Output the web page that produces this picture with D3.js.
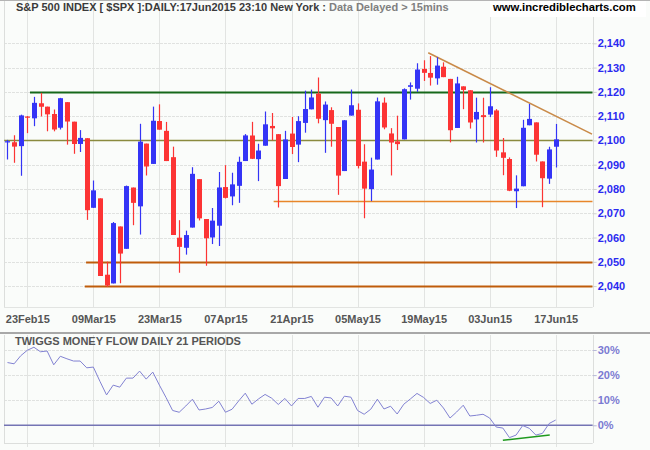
<!DOCTYPE html>
<html><head><meta charset="utf-8">
<script src="https://cdn.jsdelivr.net/npm/d3@7"></script>
<style>
html,body{margin:0;padding:0;background:#fafcfa;}
svg{display:block;font-family:"Liberation Sans",Arial,sans-serif;}
</style></head>
<body><svg id="c" width="650" height="450"></svg>
<script>
// ---- data ----
const dates = ["18Feb15","19Feb15","20Feb15","23Feb15","24Feb15","25Feb15","26Feb15","27Feb15","02Mar15","03Mar15","04Mar15","05Mar15","06Mar15","09Mar15","10Mar15","11Mar15","12Mar15","13Mar15","16Mar15","17Mar15","18Mar15","19Mar15","20Mar15","23Mar15","24Mar15","25Mar15","26Mar15","27Mar15","30Mar15","31Mar15","01Apr15","02Apr15","06Apr15","07Apr15","08Apr15","09Apr15","10Apr15","13Apr15","14Apr15","15Apr15","16Apr15","17Apr15","20Apr15","21Apr15","22Apr15","23Apr15","24Apr15","27Apr15","28Apr15","29Apr15","30Apr15","01May15","04May15","05May15","06May15","07May15","08May15","11May15","12May15","13May15","14May15","15May15","18May15","19May15","20May15","21May15","22May15","26May15","27May15","28May15","29May15","01Jun15","02Jun15","03Jun15","04Jun15","05Jun15","08Jun15","09Jun15","10Jun15","11Jun15","12Jun15","15Jun15","16Jun15","17Jun15"];
const open  = [2099.16,2099.25,2097.65,2109.83,2109.10,2115.30,2113.91,2110.88,2105.23,2115.76,2107.72,2098.54,2100.91,2072.25,2076.14,2044.69,2041.10,2064.56,2055.35,2080.59,2072.84,2098.69,2090.32,2107.99,2103.94,2093.10,2059.94,2055.78,2064.11,2084.05,2067.63,2060.03,2064.87,2080.79,2076.94,2081.29,2091.51,2102.03,2092.28,2097.82,2105.96,2102.58,2084.11,2102.82,2098.27,2107.21,2112.80,2119.29,2108.35,2112.49,2105.52,2087.38,2110.23,2112.63,2091.26,2079.96,2092.13,2115.56,2102.87,2099.62,2100.43,2122.07,2121.30,2129.45,2127.79,2125.55,2130.36,2125.34,2105.13,2122.27,2120.66,2108.64,2110.41,2110.64,2112.35,2095.09,2092.34,2079.07,2081.12,2106.24,2107.43,2091.34,2084.26,2097.40];
const high  = [2100.23,2102.13,2110.61,2110.05,2117.94,2119.59,2113.91,2112.74,2117.52,2115.76,2107.72,2104.25,2100.91,2083.49,2076.14,2050.08,2066.41,2064.56,2081.41,2080.59,2106.85,2098.69,2113.92,2114.86,2107.63,2097.43,2067.15,2062.83,2088.97,2084.05,2067.63,2072.17,2086.99,2089.81,2086.69,2093.31,2102.61,2107.65,2098.62,2111.91,2111.30,2102.58,2103.94,2109.64,2109.98,2120.49,2120.92,2125.92,2116.04,2113.65,2105.52,2108.41,2120.95,2115.24,2098.42,2092.90,2117.66,2117.69,2105.06,2110.19,2121.45,2123.89,2131.78,2133.02,2134.72,2134.28,2132.15,2125.34,2126.22,2122.27,2120.66,2117.61,2117.59,2121.92,2112.89,2100.99,2093.01,2085.62,2108.50,2115.02,2107.43,2091.34,2097.40,2106.79];
const low   = [2092.15,2090.79,2085.44,2103.00,2105.87,2109.89,2103.76,2103.75,2104.50,2098.26,2094.49,2095.22,2067.27,2072.21,2044.16,2039.69,2041.10,2041.17,2055.35,2065.08,2061.23,2085.56,2090.32,2104.42,2091.50,2061.05,2045.50,2052.96,2064.11,2067.04,2048.38,2057.32,2056.52,2076.10,2073.30,2074.29,2091.51,2092.33,2083.24,2097.82,2100.02,2072.37,2084.11,2094.38,2091.05,2103.19,2112.80,2107.04,2094.89,2097.41,2077.59,2087.38,2110.23,2088.46,2067.93,2074.99,2092.13,2104.58,2085.57,2096.04,2100.43,2116.81,2120.01,2124.50,2122.59,2122.95,2126.06,2099.18,2105.13,2112.86,2104.89,2099.14,2099.14,2109.61,2093.23,2085.67,2079.11,2072.14,2081.12,2106.24,2091.33,2072.49,2082.10,2088.86];
const close = [2099.68,2097.45,2110.30,2109.66,2115.48,2113.86,2110.74,2104.50,2117.39,2107.78,2098.53,2101.04,2071.26,2079.43,2044.16,2040.24,2065.95,2053.40,2081.19,2074.28,2099.50,2089.27,2108.10,2104.42,2091.50,2061.05,2056.15,2061.02,2086.24,2067.89,2059.69,2066.96,2080.62,2076.33,2081.90,2091.18,2102.06,2092.43,2095.84,2106.63,2104.99,2081.18,2100.40,2097.29,2107.96,2112.93,2117.69,2108.92,2114.76,2106.85,2085.51,2108.29,2114.49,2089.46,2080.15,2088.00,2116.10,2105.33,2099.12,2098.48,2121.10,2122.73,2129.20,2127.83,2125.85,2130.82,2126.06,2104.20,2123.48,2120.79,2107.39,2111.73,2109.60,2114.07,2095.84,2092.83,2079.28,2080.15,2105.20,2108.86,2094.11,2084.43,2096.29,2100.44];
const tmf = [25.0,24.5,27.7,29.9,31.1,29.3,29.6,24.1,27.5,26.5,25.6,25.6,22.9,23.2,17.5,12.1,16.0,15.2,18.8,18.8,21.6,18.4,21.2,16.0,11.1,5.9,5.2,7.7,10.4,6.1,6.5,7.1,9.6,5.2,6.4,9.7,12.8,8.4,10.5,12.3,10.8,8.3,10.7,7.7,10.7,10.7,11.5,7.2,11.2,10.9,7.7,11.6,11.2,5.9,4.4,6.4,10.4,6.5,7.6,4.5,8.4,10.5,12.7,11.1,8.7,10.0,6.9,2.9,5.3,8.0,3.7,4.0,4.4,2.9,-0.7,-1.1,-4.9,-3.9,-0.1,-1.2,-3.9,-3.2,0.7,2.1];
const xTickLabels = ["23Feb15","09Mar15","23Mar15","07Apr15","21Apr15","05May15","19May15","03Jun15","17Jun15"];
const priceTicks = [2040,2050,2060,2070,2080,2090,2100,2110,2120,2130,2140];
const tmfTicks = [0,10,20,30];
// horizontal support/resistance lines: [start index, value]
const levelStart = [3.4, -0.5, 40.3, 11.9, 11.7];
const levelValue = [2120, 2100, 2075, 2050, 2040];
const levelColor = ["#16681a","#8a8a3e","#e8862a","#bf5c0a","#bf5c0a"];
const levelWidth = [2, 1.6, 1.5, 2, 2];
// trend line: [index, value]
const trendIdx = [63.7, 88.5];
const trendVal = [2136.1, 2102.6];
// TMF divergence line
const divIdx = [75.0, 82.1];
const divVal = [-6.0, -3.9];

// ---- layout ----
const svg = d3.select("#c");
const L = 4, R = 592.7, mainBottom = 307, sepY = 333, lowTop = 335, lowBottom = 443;
const x = d3.scaleLinear().domain([3, 83]).range([27.3, 555.7]);
const y = d3.scaleLinear().domain([2040, 2140]).range([286.1, 43.3]);
const y2 = d3.scaleLinear().domain([0, 30]).range([425.3, 350]);
const tickIdx = xTickLabels.map(t => dates.indexOf(t));
const px = v => Math.round(v) + 0.5;

svg.append("rect").attr("width",650).attr("height",450).attr("fill","#fafcfa");

// vertical grid lines
const g = svg.append("g");
tickIdx.forEach(i => {
  g.append("line").attr("x1",px(x(i))).attr("x2",px(x(i))).attr("y1",0).attr("y2",mainBottom).attr("stroke","#e2e4e2");
  g.append("line").attr("x1",px(x(i))).attr("x2",px(x(i))).attr("y1",lowTop).attr("y2",447).attr("stroke","#e2e4e2");
});
// horizontal grid main
priceTicks.forEach(v => {
  g.append("line").attr("x1",L).attr("x2",R).attr("y1",px(y(v))).attr("y2",px(y(v))).attr("stroke","#e0e2e0").attr("stroke-dasharray","3,1");
});
// borders
g.append("line").attr("x1",px(L)).attr("x2",px(L)).attr("y1",0).attr("y2",mainBottom).attr("stroke","#dcdedc");
g.append("line").attr("x1",px(R)).attr("x2",px(R)).attr("y1",0).attr("y2",mainBottom).attr("stroke","#dcdedc");
g.append("line").attr("x1",L).attr("x2",R).attr("y1",mainBottom+0.5).attr("y2",mainBottom+0.5).attr("stroke","#e2e4e2");
g.append("line").attr("x1",0).attr("x2",650).attr("y1",0.5).attr("y2",0.5).attr("stroke","#b4b4b4");

// URL box
svg.append("rect").attr("x",490).attr("y",1).attr("width",156).attr("height",16).attr("fill","#ffffff");

// titles
const title = svg.append("text").attr("x",16).attr("y",10.5).attr("font-size",11).attr("font-weight","bold");
title.append("tspan").attr("fill","#3a3a3a").text("S&P 500 INDEX [ $SPX ]:DAILY:17Jun2015 23:10 New York : ");
title.append("tspan").attr("fill","#808080").text("Data Delayed > 15mins");
svg.append("text").attr("x",493).attr("y",10.5).attr("font-size",11.3).attr("font-weight","bold").attr("fill","#000").text("www.incrediblecharts.com");

// price axis
const yAxis = svg.append("g").attr("transform",`translate(${R},0)`)
  .call(d3.axisRight(y).tickValues(priceTicks).tickSize(4).tickPadding(1).tickFormat(d3.format(",")));
yAxis.select(".domain").remove();
yAxis.selectAll("line").attr("stroke","#d0d0d0");
yAxis.selectAll("text").attr("fill","#2a2af0").attr("font-size",11).attr("font-weight","bold").attr("font-family","Liberation Sans, Arial, sans-serif");

// date axis
const xAxis = svg.append("g").attr("transform",`translate(0,${mainBottom})`)
  .call(d3.axisBottom(x).tickValues(tickIdx).tickSize(0).tickPadding(8.5).tickFormat(i => dates[i]));
xAxis.select(".domain").remove();
xAxis.selectAll("text").attr("fill","#555").attr("font-size",11).attr("font-weight","bold").attr("font-family","Liberation Sans, Arial, sans-serif");

// levels
const clip = svg.append("clipPath").attr("id","mainclip").append("rect").attr("x",L).attr("y",0).attr("width",R-L).attr("height",mainBottom);
const lv = svg.append("g").attr("clip-path","url(#mainclip)");
levelValue.forEach((v,k) => {
  lv.append("line").attr("x1",Math.max(L, x(levelStart[k]))).attr("x2",R).attr("y1",Math.round(y(v))+0.5).attr("y2",Math.round(y(v))+0.5)
    .attr("stroke",levelColor[k]).attr("stroke-width",levelWidth[k]);
});

// candles
const cg = svg.append("g");
dates.forEach((d,i) => {
  const cx = Math.round(x(i));
  const up = close[i] >= open[i];
  const col = up ? "#3434f6" : "#fc3434";
  cg.append("line").attr("x1",cx+0.5).attr("x2",cx+0.5).attr("y1",y(high[i])).attr("y2",y(low[i])).attr("stroke",col).attr("stroke-width",1.2);
  const t = y(Math.max(open[i],close[i])), b = y(Math.min(open[i],close[i]));
  cg.append("rect").attr("x",cx-2).attr("y",t).attr("width",5).attr("height",Math.max(1.2,b-t)).attr("fill",col);
});

// trend line
lv.append("line").attr("x1",x(trendIdx[0])).attr("y1",y(trendVal[0])).attr("x2",x(trendIdx[1])).attr("y2",y(trendVal[1]))
  .attr("stroke","#c98a48").attr("stroke-width",1.6);

// separator
svg.append("line").attr("x1",0).attr("x2",650).attr("y1",sepY).attr("y2",sepY).attr("stroke","#a8a8a8").attr("stroke-width",2);

// lower panel
const lp = svg.append("g");
[10,20,30].forEach(v => {
  lp.append("line").attr("x1",L).attr("x2",R).attr("y1",px(y2(v))).attr("y2",px(y2(v))).attr("stroke","#e0e2e0").attr("stroke-dasharray","3,1");
});
lp.append("line").attr("x1",L).attr("x2",R).attr("y1",px(lowBottom)).attr("y2",px(lowBottom)).attr("stroke","#dcdedc");
lp.append("line").attr("x1",px(L)).attr("x2",px(L)).attr("y1",lowTop).attr("y2",lowBottom).attr("stroke","#dcdedc");
lp.append("line").attr("x1",px(R)).attr("x2",px(R)).attr("y1",lowTop).attr("y2",lowBottom).attr("stroke","#dcdedc");
lp.append("line").attr("x1",L).attr("x2",R).attr("y1",y2(0)).attr("y2",y2(0)).attr("stroke","#7474b4").attr("stroke-width",1.4);

const y2Axis = svg.append("g").attr("transform",`translate(${R},0)`)
  .call(d3.axisRight(y2).tickValues(tmfTicks).tickSize(4).tickPadding(1).tickFormat(d => d + "%"));
y2Axis.select(".domain").remove();
y2Axis.selectAll("line").attr("stroke","#b8b8d8");
y2Axis.selectAll("text").attr("fill","#7a7ad2").attr("font-size",11).attr("font-weight","bold").attr("font-family","Liberation Sans, Arial, sans-serif");

lp.append("path").datum(tmf).attr("fill","none").attr("stroke","#8282d2").attr("stroke-width",1)
  .attr("d", d3.line().x((d,i) => x(i)).y(d => y2(d)));
lp.append("line").attr("x1",x(divIdx[0])).attr("y1",y2(divVal[0])).attr("x2",x(divIdx[1])).attr("y2",y2(divVal[1]))
  .attr("stroke","#1f9a1f").attr("stroke-width",1.5);

svg.append("text").attr("x",15).attr("y",345).attr("font-size",11).attr("font-weight","bold").attr("fill","#555").text("TWIGGS MONEY FLOW DAILY 21 PERIODS");
</script></body></html>
